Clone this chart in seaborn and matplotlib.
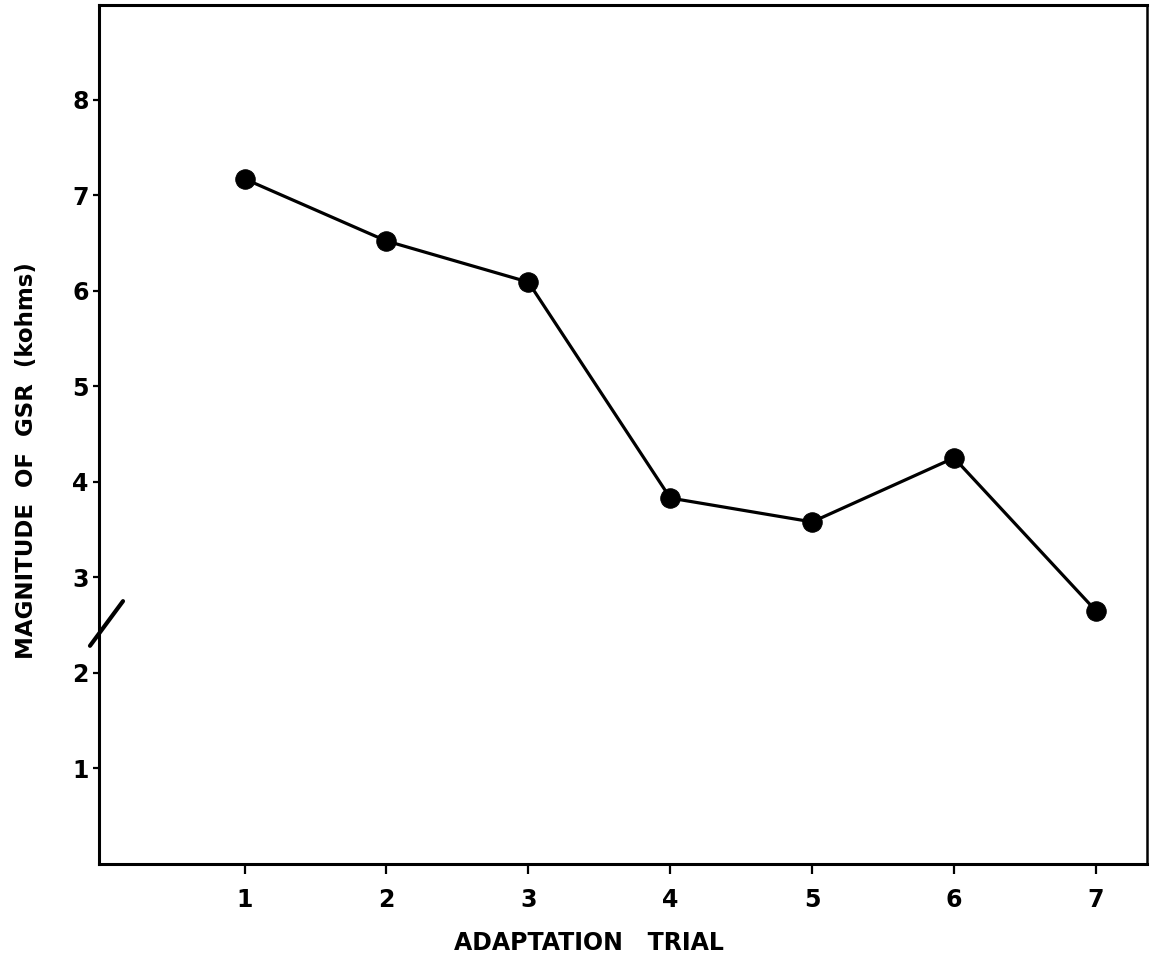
import matplotlib
matplotlib.use("Agg")
import matplotlib.pyplot as plt
import seaborn as sns
import pandas as pd

# Data
trials = [1, 2, 3, 4, 5, 6, 7]
gsr_kohms = [7.17, 6.52, 6.09, 3.83, 3.58, 4.25, 2.65]
y_ticks = [1, 2, 3, 4, 5, 6, 7, 8]
x_label = "ADAPTATION   TRIAL"
y_label = "MAGNITUDE  OF  GSR  (kohms)"

sns.set_theme(style="ticks")
plt.rcParams["font.family"] = ["DejaVu Sans"]

df = pd.DataFrame({"trial": trials, "gsr": gsr_kohms})

fig = plt.figure(figsize=(11.52, 9.66), dpi=100)
ax = fig.add_axes([99 / 1152, 102 / 966, 1048 / 1152, 859 / 966])

sns.lineplot(data=df, x="trial", y="gsr", ax=ax, color="black",
             linewidth=2.3, marker="o", markersize=14,
             markeredgecolor="black", markerfacecolor="black")

ax.set_xlim(-0.026, 7.36)
ax.set_ylim(0, 8.99)
ax.set_xticks(trials)
ax.set_xticklabels([str(t) for t in trials], fontweight="bold")
ax.set_yticks(y_ticks)
ax.set_yticklabels([str(t) for t in y_ticks], fontweight="bold")

for side in ["left", "bottom", "top"]:
    ax.spines[side].set_visible(True)
    ax.spines[side].set_linewidth(2.2)
    ax.spines[side].set_color("black")
ax.spines["right"].set_visible(True)
ax.spines["right"].set_linewidth(1.8)
ax.spines["right"].set_color("black")

ax.tick_params(axis="y", length=4.5, width=1.6, pad=3, labelsize=17, colors="black")
ax.tick_params(axis="x", length=7, width=1.6, pad=10, labelsize=17, colors="black")

ax.set_xlabel(x_label, fontsize=17, fontweight="bold", color="black")
ax.set_ylabel(y_label, fontsize=16.5, fontweight="bold", color="black")
ax.xaxis.set_label_coords(0.4676, -0.078)
ax.yaxis.set_label_coords(-0.058, 0.47)

# axis-break slash on the y axis
ax.plot([-0.0086, 0.0229], [0.254, 0.306], transform=ax.transAxes,
        color="black", linewidth=3, clip_on=False, solid_capstyle="round")

ax.grid(False)
fig.savefig("out.png", dpi=100, facecolor="white")
